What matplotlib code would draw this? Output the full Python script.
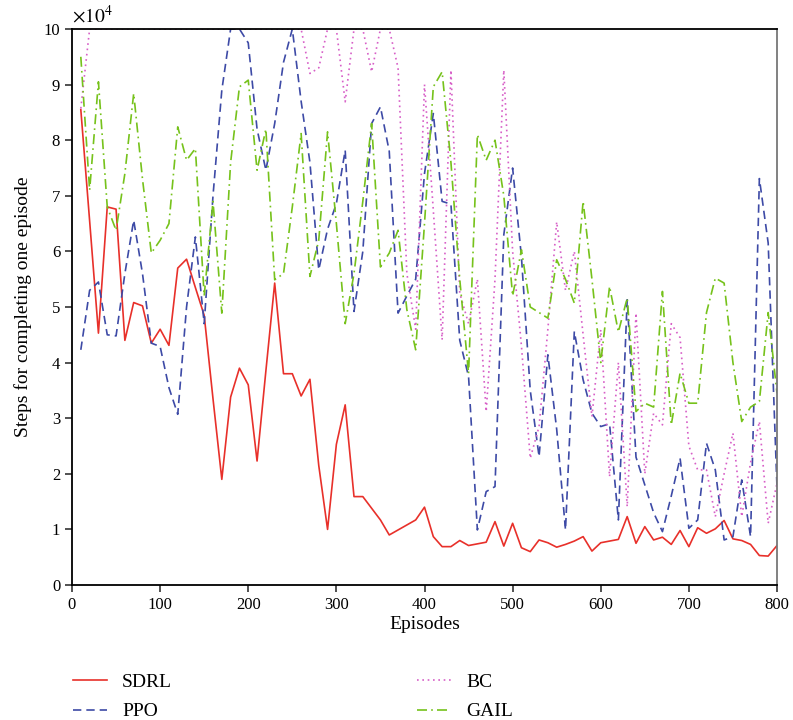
import matplotlib
matplotlib.use("Agg")
import matplotlib.pyplot as plt
import numpy as np

plt.rcParams['font.family'] = ['Liberation Serif', 'DejaVu Serif']
plt.rcParams['mathtext.fontset'] = 'stix'

episodes = list(range(10, 801, 10))

sdrl = [8.55, 6.55, 4.53, 6.8, 6.76, 4.4, 5.08, 5.02, 4.35, 4.6,
        4.31, 5.7, 5.86, 5.35, 4.85, 3.35, 1.9, 3.38, 3.9, 3.6,
        2.23, 3.85, 5.43, 3.8, 3.8, 3.4, 3.7, 2.15, 1.0, 2.53,
        3.24, 1.59, 1.59, 1.38, 1.17, 0.9, 0.99, 1.08, 1.17, 1.4,
        0.87, 0.69, 0.69, 0.80, 0.71, 0.74, 0.77, 1.14, 0.70, 1.11,
        0.67, 0.6, 0.81, 0.76, 0.68, 0.73, 0.79, 0.87, 0.61, 0.76,
        0.79, 0.82, 1.23, 0.75, 1.05, 0.81, 0.86, 0.73, 0.98, 0.69,
        1.03, 0.93, 1.01, 1.16, 0.83, 0.8, 0.73, 0.53, 0.52, 0.71]

ppo = [4.23, 5.3, 5.45, 4.5, 4.48, 5.6, 6.56, 5.6, 4.35, 4.29,
       3.55, 3.07, 5.0, 6.26, 4.7, 7.0, 8.9, 10.0, 10.0, 9.75,
       8.2, 7.46, 8.3, 9.4, 10.0, 8.7, 7.6, 5.67, 6.4, 6.86,
       7.82, 4.92, 6.0, 8.3, 8.6, 7.8, 4.89, 5.2, 5.5, 7.4,
       8.48, 6.9, 6.85, 4.4, 3.75, 0.99, 1.68, 1.77, 6.3, 7.5,
       5.9, 3.5, 2.31, 4.14, 2.8, 0.99, 4.56, 3.69, 3.09, 2.85,
       2.9, 1.17, 5.13, 2.3, 1.8, 1.3, 0.96, 1.6, 2.28, 1.02,
       1.17, 2.55, 2.07, 0.81, 0.87, 1.89, 0.87, 7.31, 6.15, 1.75]

bc = [8.57, 10, 10, 10, 10, 10, 10, 10, 10, 10,
      10, 10, 10, 10, 10, 10, 10, 10, 10, 10,
      10, 10, 10, 10, 10, 10, 9.2, 9.3, 10, 10,
      8.69, 10, 10, 9.23, 10, 10, 9.3, 5.6, 4.6, 9.0,
      6.74, 4.41, 9.26, 5.25, 4.7, 5.5, 3.12, 5.5, 9.26, 6.0,
      4.3, 2.28, 2.85, 4.6, 6.53, 5.3, 6.0, 4.5, 3.03, 4.59,
      1.95, 4.0, 1.41, 4.89, 2.0, 3.09, 2.88, 4.7, 4.45, 2.5,
      2.07, 2.07, 1.23, 2.0, 2.73, 1.23, 2.2, 2.94, 1.11, 1.83]

gail = [9.5, 7.1, 9.05, 6.8, 6.38, 7.4, 8.84, 7.3, 5.97, 6.2,
        6.5, 8.24, 7.64, 7.85, 5.2, 6.9, 4.89, 7.6, 8.96, 9.08,
        7.46, 8.2, 5.49, 5.6, 6.8, 8.12, 5.55, 6.2, 8.15, 6.5,
        4.7, 5.6, 6.9, 8.3, 5.72, 5.97, 6.38, 4.95, 4.23, 6.5,
        8.96, 9.23, 7.6, 5.5, 3.8, 8.1, 7.64, 8.0, 7.0, 5.2,
        6.03, 5.0, 4.9, 4.8, 5.85, 5.5, 5.07, 6.9, 5.5, 4.0,
        5.37, 4.55, 5.16, 3.12, 3.27, 3.2, 5.28, 2.88, 3.81, 3.27,
        3.27, 4.9, 5.52, 5.43, 4.0, 2.94, 3.2, 3.3, 4.9, 3.45]

labels = ['SDRL', 'PPO', 'BC', 'GAIL']
colors = ['#e8302a', '#3d4aa6', '#d75fc7', '#76c21b']
styles = ['-', (0, (5, 3)), (0, (1, 2.2)), (0, (6, 2.5, 1, 2.5))]

fig = plt.figure(figsize=(7.93, 7.2), dpi=100)
ax = fig.add_axes([72/793, 1-585/720, (777-72)/793, (585-29)/720])

series = [sdrl, ppo, bc, gail]
handles = []
for s, lab, c, ls in zip(series, labels, colors, styles):
    h, = ax.plot(episodes, s, color=c, linestyle=ls, lw=1.2, label=lab)
    handles.append(h)

ax.set_xlim(0, 800)
ax.set_ylim(0, 10)
ax.set_xticks(range(0, 801, 100))
ax.set_yticks(range(0, 11, 1))
ax.tick_params(direction='out', length=5, width=1.2, labelsize=12, colors='#333333', labelcolor='black')
for side in ['left', 'bottom', 'top']:
    ax.spines[side].set_color('black')
    ax.spines[side].set_linewidth(1.3)
ax.spines['right'].set_color('#777777')
ax.spines['right'].set_linewidth(1.3)

ax.set_xlabel('Episodes', fontsize=14, labelpad=2)
ax.set_ylabel('Steps for completing one episode', fontsize=14, labelpad=8)
ax.text(0.0, 1.005, r'$\times10^{4}$', transform=ax.transAxes, fontsize=14,
        ha='left', va='bottom')

fig.legend(handles=handles, loc='upper left', bbox_to_anchor=(55/793, 1-656/720),
           ncol=2, frameon=False, fontsize=14, handlelength=1.75,
           columnspacing=12.6, labelspacing=0.6, handletextpad=0.8)

fig.savefig('out.png', dpi=100)
